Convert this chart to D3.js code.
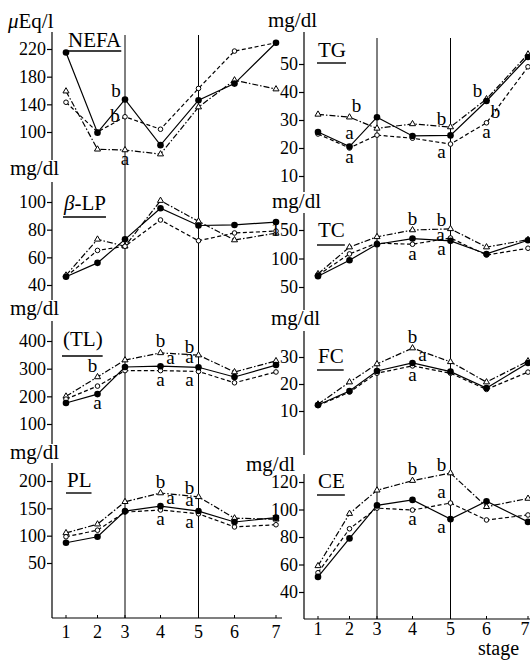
<!DOCTYPE html>
<html>
<head>
<meta charset="utf-8">
<script src="https://cdn.jsdelivr.net/npm/d3@7"></script>
<style>
  body { margin: 0; background: #fff; }
  svg { display: block; }
</style>
</head>
<body>
<div id="chart"></div>
<script>
// ── Data ────────────────────────────────────────────────────────
// series order in every panel: [solid ●, dashed ○, dash-dot △]
const STAGES = [1, 2, 3, 4, 5, 6, 7];

const NEFA = [[215, 99, 147, 81, 146, 170, 229], [143, 100, 122, 104, 163, 217, 229], [159, 75, 74, 68, 136, 175, 162]];
const BLP  = [[46, 56, 73, 95.5, 83, 83.4, 85.5], [46, 65, 68, 87, 72, 77.6, 79], [47, 73, 68, 101, 86, 72.5, 77.5]];
const TL   = [[176, 208, 306, 309, 305, 270, 313], [190, 237, 293, 293, 290, 249, 288], [200, 270, 331, 357, 349, 288, 328]];
const PL   = [[87, 98, 145, 154, 145, 125, 133], [98, 110, 143, 147, 140, 116, 120], [105, 121, 162, 178, 171, 132, 130]];
const TG   = [[25.7, 20.5, 31, 24.3, 24.5, 36.8, 52.5], [25, 20, 24.6, 23.5, 21.4, 29, 49], [32, 31, 27, 28.6, 27.5, 37.5, 53.5]];
const TC   = [[69, 97, 125, 135, 131, 108, 132], [71, 108, 127, 125, 136, 106, 118], [73, 120, 138, 150, 152, 120, 133]];
const FC   = [[12.2, 17.4, 24.8, 27.8, 24.6, 18.5, 27.8], [12, 17, 24, 26.7, 24, 18, 24.4], [12.5, 20.7, 27.4, 33.3, 28.2, 20.7, 28.5]];
const CE   = [[51, 79, 103, 107, 93, 106, 91], [54, 86, 101, 99.6, 104.7, 92.4, 96], [59, 97, 114, 121, 126.5, 102, 108]];

const NEFA_TICKS = [100, 140, 180, 220];
const BLP_TICKS  = [40, 60, 80, 100];
const TL_TICKS   = [100, 200, 300, 400];
const PL_TICKS   = [50, 100, 150, 200];
const TG_TICKS   = [10, 20, 30, 40, 50];
const TC_TICKS   = [50, 100, 150];
const FC_TICKS   = [10, 20, 30];
const CE_TICKS   = [40, 60, 80, 100, 120];

// significance letters: [panel, stage, series, letter, placement]
const LETTERS = [
  ['NEFA', 3, 0, 'b', 'leftUp'], ['NEFA', 3, 1, 'b', 'left'], ['NEFA', 3, 2, 'a', 'below'],
  ['TG', 2, 2, 'b', 'aboveRight'], ['TG', 2, 0, 'a', 'above'], ['TG', 2, 1, 'a', 'below'],
  ['TG', 5, 2, 'b', 'leftUp'], ['TG', 5, 1, 'a', 'leftDown'],
  ['TG', 6, 2, 'b', 'leftUp'], ['TG', 6, 0, 'b', 'rightDown'], ['TG', 6, 1, 'a', 'below'],
  ['TC', 4, 2, 'b', 'above'], ['TC', 4, 1, 'a', 'below'],
  ['TC', 5, 2, 'b', 'leftUp'], ['TC', 5, 1, 'a', 'left'], ['TC', 5, 0, 'a', 'leftDown'],
  ['TL', 2, 2, 'b', 'aboveLeft'], ['TL', 2, 0, 'a', 'below'],
  ['TL', 4, 2, 'b', 'above'], ['TL', 4, 0, 'a', 'rightUp'], ['TL', 4, 1, 'a', 'below'],
  ['TL', 5, 2, 'b', 'leftUp'], ['TL', 5, 0, 'a', 'leftUp'], ['TL', 5, 1, 'a', 'leftDown'],
  ['FC', 4, 2, 'b', 'above'], ['FC', 4, 0, 'a', 'rightUp'], ['FC', 4, 1, 'a', 'below'],
  ['PL', 4, 2, 'b', 'above'], ['PL', 4, 0, 'a', 'rightUp'], ['PL', 4, 1, 'a', 'below'],
  ['PL', 5, 2, 'b', 'leftUp'], ['PL', 5, 0, 'a', 'leftUp'], ['PL', 5, 1, 'a', 'leftDown'],
  ['CE', 4, 2, 'b', 'above'], ['CE', 4, 1, 'a', 'below'],
  ['CE', 5, 2, 'b', 'leftUp'], ['CE', 5, 1, 'a', 'leftUp'], ['CE', 5, 0, 'a', 'leftDown'],
];

// ── Layout ──────────────────────────────────────────────────────
const W = 530, H = 665;
const FONT = "'Liberation Serif','DejaVu Serif',serif";
const STAGE_OFFSETS = [0, 31.5, 59, 94.5, 132.5, 168.5, 210]; // stages are unevenly spaced
const COLS = {
  left:  { axisX: 52,  x0: 66,  vTop: 35, bottom: 618, axisEnd: 282, labelY: 638 },
  right: { axisX: 304, x0: 318, vTop: 38, bottom: 619, axisEnd: 530, labelY: 635 },
};

const PANELS = [
  { key: 'NEFA', col: 'left',  data: NEFA, ticks: NEFA_TICKS, dom: [100, 220], rng: [132, 49],
    title: [['', 'NEFA']], tx: 68, ty: 47, uline: 51, unit: [['i', 'μ'], ['', 'Eq/l']], ux: 8, uy: 28, seg: [32, 160] },
  { key: 'BLP',  col: 'left',  data: BLP,  ticks: BLP_TICKS,  dom: [40, 100],  rng: [285, 202],
    title: [['i', 'β'], ['', '-LP']], tx: 64, ty: 210, uline: 217, unit: [['', 'mg/dl']], ux: 10, uy: 175, seg: [182, 300] },
  { key: 'TL',   col: 'left',  data: TL,   ticks: TL_TICKS,   dom: [100, 400], rng: [424, 341],
    title: [['', '(TL)']], tx: 63, ty: 346, uline: 356, unit: [['', 'mg/dl']], ux: 10, uy: 315, seg: [321, 444] },
  { key: 'PL',   col: 'left',  data: PL,   ticks: PL_TICKS,   dom: [50, 200],  rng: [563, 481],
    title: [['', 'PL']], tx: 67, ty: 487, uline: 493, unit: [['', 'mg/dl']], ux: 10, uy: 459, seg: [463, 618] },
  { key: 'TG',   col: 'right', data: TG,   ticks: TG_TICKS,   dom: [10, 50],   rng: [176, 64],
    title: [['', 'TG']], tx: 318, ty: 57, uline: 63, unit: [['', 'mg/dl']], ux: 268, uy: 27, seg: [32, 192] },
  { key: 'TC',   col: 'right', data: TC,   ticks: TC_TICKS,   dom: [50, 150],  rng: [287, 230],
    title: [['', 'TC']], tx: 318, ty: 237, uline: 245, unit: [['', 'mg/dl']], ux: 272, uy: 208, seg: [213, 310] },
  { key: 'FC',   col: 'right', data: FC,   ticks: FC_TICKS,   dom: [10, 30],   rng: [411, 357],
    title: [['', 'FC']], tx: 318, ty: 363, uline: 370, unit: [['', 'mg/dl']], ux: 271, uy: 325, seg: [331, 455] },
  { key: 'CE',   col: 'right', data: CE,   ticks: CE_TICKS,   dom: [40, 120],  rng: [592, 482],
    title: [['', 'CE']], tx: 318, ty: 488, uline: 495, unit: [['', 'mg/dl']], ux: 246, uy: 471, seg: [474, 619] },
];

const SERIES = [
  { dash: null,        marker: 'dot' },
  { dash: '4,2.5',     marker: 'circle' },
  { dash: '6,2,1.5,2', marker: 'triangle' },
];

const PLACE = {
  above: [0, -12], below: [0, 11], left: [-10, -1], leftUp: [-9, -9], leftDown: [-9, 10],
  rightUp: [10, -6], rightDown: [9, 11], aboveRight: [7, -12], aboveLeft: [-5, -11],
};

// ── Drawing ─────────────────────────────────────────────────────
const svg = d3.select('#chart').append('svg')
  .attr('width', W).attr('height', H)
  .attr('font-family', FONT);

svg.append('rect').attr('width', W).attr('height', H).attr('fill', '#fff');

const xScales = {};
Object.entries(COLS).forEach(([name, c]) => {
  const x = d3.scaleLinear().domain(STAGES).range(STAGE_OFFSETS.map(o => c.x0 + o));
  xScales[name] = x;

  // stage 3 and 5 reference lines
  [3, 5].forEach(s => {
    svg.append('line')
      .attr('x1', x(s)).attr('x2', x(s)).attr('y1', c.vTop).attr('y2', c.bottom)
      .attr('stroke', '#000').attr('stroke-width', 1);
  });

  // bottom axis
  svg.append('line')
    .attr('x1', c.axisX).attr('x2', c.axisEnd).attr('y1', c.bottom).attr('y2', c.bottom)
    .attr('stroke', '#000').attr('stroke-width', 1.2);
  STAGES.forEach(s => {
    svg.append('line')
      .attr('x1', x(s)).attr('x2', x(s)).attr('y1', c.bottom).attr('y2', c.bottom - 3)
      .attr('stroke', '#000').attr('stroke-width', 1);
    svg.append('text')
      .attr('x', Math.min(x(s), W - 5)).attr('y', c.labelY)
      .attr('text-anchor', 'middle').attr('font-size', 18)
      .text(s);
  });
});

svg.append('text')
  .attr('x', 478).attr('y', 655).attr('font-size', 20)
  .text('stage');

const byKey = {};

PANELS.forEach(p => {
  const c = COLS[p.col];
  const x = xScales[p.col];
  const y = d3.scaleLinear().domain(p.dom).range(p.rng);
  byKey[p.key] = { p, x, y };

  // y axis
  const g = svg.append('g').attr('transform', `translate(${c.axisX},0)`);
  g.call(d3.axisLeft(y).tickValues(p.ticks).tickSize(5).tickPadding(1));
  g.select('.domain').remove();
  g.selectAll('.tick line').attr('stroke-width', 1.2);
  g.selectAll('.tick text')
    .attr('font-family', FONT).attr('font-size', 18).attr('fill', '#000');
  svg.append('line')
    .attr('x1', c.axisX).attr('x2', c.axisX).attr('y1', p.seg[0]).attr('y2', p.seg[1])
    .attr('stroke', '#000').attr('stroke-width', 1.2);

  // unit label
  const u = svg.append('text').attr('x', p.ux).attr('y', p.uy).attr('font-size', 21);
  p.unit.forEach(([st, t]) => u.append('tspan').attr('font-style', st === 'i' ? 'italic' : null).text(t));

  // title + underline
  const t = svg.append('text').attr('x', p.tx).attr('y', p.ty).attr('font-size', 21);
  p.title.forEach(([st, s]) => t.append('tspan').attr('font-style', st === 'i' ? 'italic' : null).text(s));
  const tw = t.node().getComputedTextLength();
  svg.append('line')
    .attr('x1', p.tx - 1).attr('x2', p.tx + tw).attr('y1', p.uline).attr('y2', p.uline)
    .attr('stroke', '#000').attr('stroke-width', 1.4);

  // series lines
  const line = d3.line().x((d, i) => x(STAGES[i])).y(d => y(d));
  p.data.forEach((vals, si) => {
    svg.append('path')
      .attr('d', line(vals))
      .attr('fill', 'none').attr('stroke', '#000').attr('stroke-width', 1.2)
      .attr('stroke-dasharray', SERIES[si].dash);
  });

  // markers (triangles first, filled dots on top)
  [2, 1, 0].forEach(si => {
    const vals = p.data[si];
    const m = SERIES[si].marker;
    vals.forEach((v, i) => {
      const px = x(STAGES[i]), py = y(v);
      if (m === 'dot') {
        svg.append('circle').attr('cx', px).attr('cy', py).attr('r', 3.3).attr('fill', '#000');
      } else if (m === 'circle') {
        svg.append('circle').attr('cx', px).attr('cy', py).attr('r', 2.3)
          .attr('fill', '#fff').attr('stroke', '#000').attr('stroke-width', 1);
      } else {
        svg.append('path')
          .attr('d', d3.symbol(d3.symbolTriangle, 16)())
          .attr('transform', `translate(${px},${py})`)
          .attr('fill', '#fff').attr('stroke', '#000').attr('stroke-width', 1);
      }
    });
  });
});

// significance letters
LETTERS.forEach(([key, stage, si, letter, place]) => {
  const { p, x, y } = byKey[key];
  const [dx, dy] = PLACE[place];
  const cx = x(stage) + dx;
  const cy = y(p.data[si][STAGES.indexOf(stage)]) + dy;
  svg.append('text')
    .attr('x', cx).attr('y', cy + (letter === 'b' ? 6.5 : 4.3))
    .attr('text-anchor', 'middle').attr('font-size', 19)
    .text(letter);
});
</script>
</body>
</html>
